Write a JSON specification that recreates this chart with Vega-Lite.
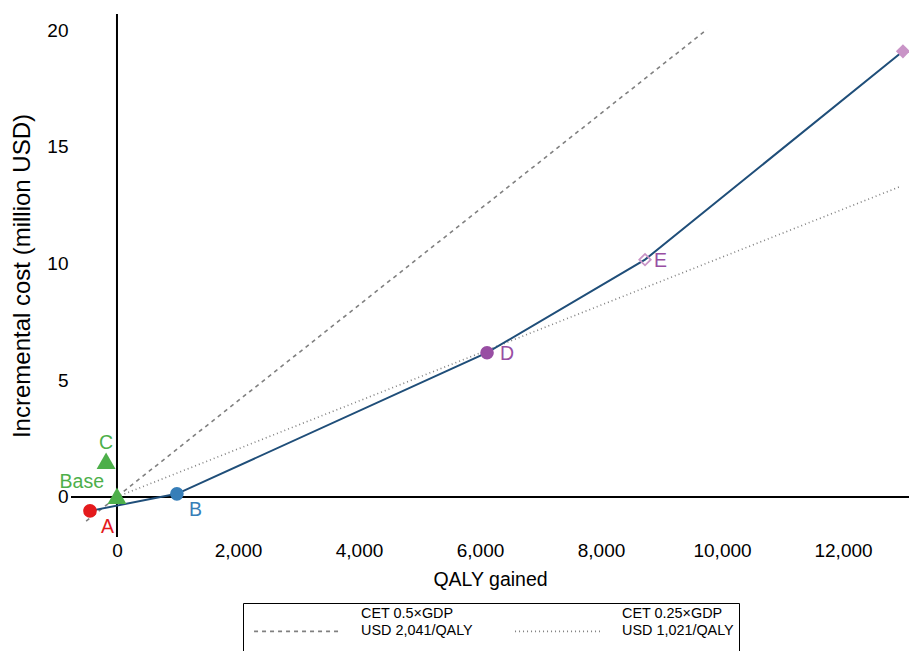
{
  "$schema": "https://vega.github.io/schema/vega-lite/v6.json",
  "autosize": "none",
  "width": 838,
  "height": 523,
  "padding": {"left": 71, "top": 14, "right": 0, "bottom": 114},
  "background": "white",
  "config": {
    "font": "Liberation Sans",
    "view": {"stroke": null},
    "axis": {"grid": false, "domain": false, "ticks": false, "labelColor": "black", "titleColor": "black", "titleFontWeight": "normal"}
  },
  "datasets": {
    "pts": [
      {"name": "A", "qaly": -446, "cost": -0.6},
      {"name": "Base", "qaly": 0, "cost": 0.05},
      {"name": "C", "qaly": -180, "cost": 1.55},
      {"name": "B", "qaly": 990, "cost": 0.13},
      {"name": "D", "qaly": 6116, "cost": 6.18},
      {"name": "E", "qaly": 8727, "cost": 10.17},
      {"name": "F", "qaly": 12990, "cost": 19.1}
    ],
    "frontier": [
      {"order": 1, "qaly": -446, "cost": -0.6},
      {"order": 2, "qaly": 990, "cost": 0.13},
      {"order": 3, "qaly": 6116, "cost": 6.18},
      {"order": 4, "qaly": 8727, "cost": 10.17},
      {"order": 5, "qaly": 12990, "cost": 19.1}
    ],
    "cet": [
      {"cet": "CET 0.5×GDP|USD 2,041/QALY", "qaly": -510, "cost": -1.04},
      {"cet": "CET 0.5×GDP|USD 2,041/QALY", "qaly": 9752, "cost": 20.04},
      {"cet": "CET 0.25×GDP|USD 1,021/QALY", "qaly": 0, "cost": 0},
      {"cet": "CET 0.25×GDP|USD 1,021/QALY", "qaly": 12942, "cost": 13.3}
    ],
    "zero": [{"v": 0}]
  },
  "layer": [
    {
      "data": {"name": "zero"},
      "mark": {"type": "rule", "color": "black", "strokeWidth": 2},
      "encoding": {"x": {"field": "v", "type": "quantitative"}}
    },
    {
      "data": {"name": "zero"},
      "mark": {"type": "rule", "color": "black", "strokeWidth": 2},
      "encoding": {"y": {"field": "v", "type": "quantitative"}}
    },
    {
      "data": {"name": "cet"},
      "mark": {"type": "line", "color": "#808080", "strokeWidth": 1.6},
      "encoding": {
        "x": {"field": "qaly", "type": "quantitative"},
        "y": {"field": "cost", "type": "quantitative"},
        "detail": {"field": "cet"},
        "strokeDash": {
          "field": "cet", "type": "nominal",
          "scale": {"domain": ["CET 0.5×GDP|USD 2,041/QALY", "CET 0.25×GDP|USD 1,021/QALY"], "range": [[4, 4], [1, 3]]},
          "legend": {
            "title": null,
            "orient": "none",
            "legendX": 172,
            "legendY": 589,
            "direction": "horizontal",
            "columns": 2,
            "strokeColor": "black",
            "padding": 5,
            "symbolType": "M-0.58,0.83H6.5",
            "symbolSize": 576,
            "symbolStrokeColor": "#808080",
            "symbolStrokeWidth": 1.6,
            "labelFontSize": 14.4,
            "labelOffset": 87,
            "labelLimit": 0,
            "labelBaseline": "bottom",
            "columnPadding": 36,
            "labelExpr": "split(datum.label + '| ', '|')"
          }
        }
      }
    },
    {
      "data": {"name": "frontier"},
      "mark": {"type": "line", "color": "#1f4e79", "strokeWidth": 2},
      "encoding": {
        "x": {"field": "qaly", "type": "quantitative",
          "scale": {"domain": [-760, 13090], "nice": false, "zero": false},
          "axis": {"values": [0, 2000, 4000, 6000, 8000, 10000, 12000], "format": ",.0f", "labelFontSize": 19, "labelPadding": 4, "title": "QALY gained", "titleFontSize": 19.5, "titlePadding": 10}},
        "y": {"field": "cost", "type": "quantitative",
          "scale": {"domain": [-1.72, 20.7], "nice": false, "zero": false},
          "axis": {"values": [0, 5, 10, 15, 20], "format": ".0f", "labelFontSize": 19, "labelPadding": 3, "title": "Incremental cost (million USD)", "titleFontSize": 24, "titlePadding": 12}},
        "order": {"field": "order"}
      }
    },
    {
      "data": {"name": "pts"},
      "transform": [{"filter": "datum.name != 'E'"}],
      "mark": {"type": "point", "filled": true, "opacity": 1},
      "encoding": {
        "x": {"field": "qaly", "type": "quantitative"},
        "y": {"field": "cost", "type": "quantitative"},
        "shape": {"field": "name", "type": "nominal", "legend": null,
          "scale": {"domain": ["A", "Base", "C", "B", "D", "F"], "range": ["circle", "triangle-up", "triangle-up", "circle", "circle", "diamond"]}},
        "color": {"field": "name", "type": "nominal", "legend": null,
          "scale": {"domain": ["A", "Base", "C", "B", "D", "F"], "range": ["#e41a1c", "#4daf4a", "#4daf4a", "#377eb8", "#984ea3", "#c994c7"]}},
        "size": {"field": "name", "type": "nominal", "legend": null,
          "scale": {"type": "ordinal", "domain": ["A", "Base", "C", "B", "D", "F"], "range": [185, 360, 360, 185, 185, 200]}}
      }
    },
    {
      "data": {"name": "pts"},
      "transform": [{"filter": "datum.name == 'E'"}],
      "mark": {"type": "point", "shape": "diamond", "filled": false, "color": "#c994c7", "strokeWidth": 1.8, "size": 130, "opacity": 1},
      "encoding": {
        "x": {"field": "qaly", "type": "quantitative"},
        "y": {"field": "cost", "type": "quantitative"}
      }
    },
    {
      "data": {"name": "pts"},
      "transform": [{"filter": "datum.name == 'A'"}],
      "mark": {"type": "text", "align": "left", "baseline": "middle", "dx": 11, "dy": 16, "fontSize": 19.5, "color": "#e41a1c"},
      "encoding": {"x": {"field": "qaly", "type": "quantitative"}, "y": {"field": "cost", "type": "quantitative"}, "text": {"field": "name"}}
    },
    {
      "data": {"name": "pts"},
      "transform": [{"filter": "datum.name == 'Base'"}],
      "mark": {"type": "text", "align": "right", "baseline": "middle", "dx": -13, "dy": -14, "fontSize": 19.5, "color": "#4daf4a"},
      "encoding": {"x": {"field": "qaly", "type": "quantitative"}, "y": {"field": "cost", "type": "quantitative"}, "text": {"field": "name"}}
    },
    {
      "data": {"name": "pts"},
      "transform": [{"filter": "datum.name == 'C'"}],
      "mark": {"type": "text", "align": "center", "baseline": "middle", "dx": 0, "dy": -18, "fontSize": 19.5, "color": "#4daf4a"},
      "encoding": {"x": {"field": "qaly", "type": "quantitative"}, "y": {"field": "cost", "type": "quantitative"}, "text": {"field": "name"}}
    },
    {
      "data": {"name": "pts"},
      "transform": [{"filter": "datum.name == 'B'"}],
      "mark": {"type": "text", "align": "left", "baseline": "middle", "dx": 12, "dy": 16, "fontSize": 19.5, "color": "#377eb8"},
      "encoding": {"x": {"field": "qaly", "type": "quantitative"}, "y": {"field": "cost", "type": "quantitative"}, "text": {"field": "name"}}
    },
    {
      "data": {"name": "pts"},
      "transform": [{"filter": "datum.name == 'D'"}],
      "mark": {"type": "text", "align": "left", "baseline": "middle", "dx": 13, "dy": 1, "fontSize": 19.5, "color": "#984ea3"},
      "encoding": {"x": {"field": "qaly", "type": "quantitative"}, "y": {"field": "cost", "type": "quantitative"}, "text": {"field": "name"}}
    },
    {
      "data": {"name": "pts"},
      "transform": [{"filter": "datum.name == 'E'"}],
      "mark": {"type": "text", "align": "left", "baseline": "middle", "dx": 9, "dy": 1, "fontSize": 19.5, "color": "#984ea3"},
      "encoding": {"x": {"field": "qaly", "type": "quantitative"}, "y": {"field": "cost", "type": "quantitative"}, "text": {"field": "name"}}
    }
  ]
}
